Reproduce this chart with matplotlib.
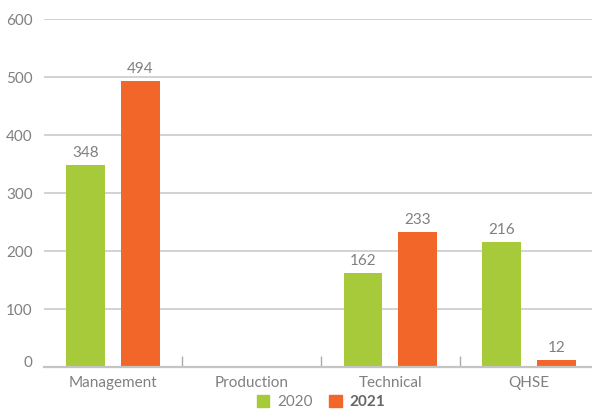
import matplotlib
matplotlib.use("Agg")
import matplotlib.pyplot as plt
import matplotlib.transforms as mtransforms
from matplotlib.patches import Patch
import numpy as np

categories = ["Management", "Production", "Technical", "QHSE"]
values_2020 = [348, 0, 162, 216]
values_2021 = [494, 0, 233, 12]
series_names = ["2020", "2021"]
y_ticks = [0, 100, 200, 300, 400, 500, 600]

GREEN = "#a6ca3a"
ORANGE = "#f2662a"
TEXT = "#808080"
GRID = "#cfcfcf"

plt.rcParams["font.family"] = ["Lato", "DejaVu Sans"]
FS = 11

fig = plt.figure(figsize=(5.92, 4.09), dpi=100)
ax = fig.add_axes([43.6 / 592, (409 - 367.3) / 409, 555 / 592, 348 / 409])

x = np.arange(len(categories))
offset = 0.198
width = 0.281

bars_a = ax.bar(x - offset, values_2020, width, color=GREEN, zorder=3)
bars_b = ax.bar(x + offset, values_2021, width, color=ORANGE, zorder=3)

for bars, vals in ((bars_a, values_2020), (bars_b, values_2021)):
    for b, v in zip(bars, vals):
        if v > 0:
            ax.text(b.get_x() + b.get_width() / 2, v + 9, str(v),
                    ha="center", va="bottom", fontsize=FS, color=TEXT)

ax.set_xlim(-0.5, len(categories) - 0.5)
ax.set_ylim(0, 600)
ax.set_yticks(y_ticks)
ax.set_yticklabels([str(t) for t in y_ticks])
ax.set_xticks(x)
ax.set_xticklabels(categories)

ax.yaxis.grid(True, color=GRID, linewidth=1.3, zorder=0)
ax.set_axisbelow(True)
for s in ("top", "right", "left"):
    ax.spines[s].set_visible(False)
ax.spines["bottom"].set_color("#c4c4c4")
ax.spines["bottom"].set_linewidth(1.6)
ax.spines["bottom"].set_zorder(4)

ax.tick_params(axis="y", length=0, pad=8, labelsize=FS, labelcolor=TEXT)
ax.tick_params(axis="x", which="major", length=0, pad=6, labelsize=FS,
               labelcolor=TEXT)
ax.set_xticks(x[:-1] + 0.5, minor=True)
ax.tick_params(axis="x", which="minor", direction="in", length=8,
               width=1, color="#aaaaaa")

# lift the zero label a little above the baseline
zero_label = ax.get_yticklabels()[0]
zero_label.set_transform(zero_label.get_transform() +
                         mtransforms.ScaledTranslation(0, 6 / 100, fig.dpi_scale_trans))

handles = [Patch(color=GREEN), Patch(color=ORANGE)]
leg = fig.legend(handles, series_names, loc="center",
                 bbox_to_anchor=(321 / 592, 7 / 409), ncol=2, frameon=False,
                 fontsize=FS, handlelength=0.8, handleheight=0.8,
                 handletextpad=0.5, columnspacing=1.1)
for t in leg.get_texts():
    t.set_color(TEXT)
leg.get_texts()[1].set_fontweight("bold")
leg.get_texts()[1].set_color("#666666")

fig.savefig("out.png", dpi=100)
